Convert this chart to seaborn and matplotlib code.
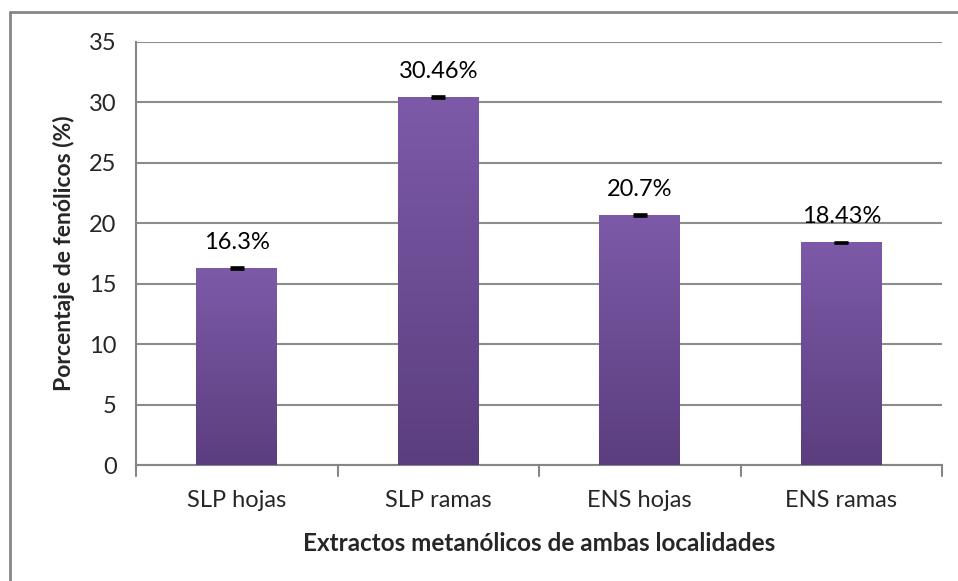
import numpy as np
import pandas as pd
import matplotlib
matplotlib.use("Agg")
import matplotlib.pyplot as plt
import seaborn as sns
from matplotlib.colors import LinearSegmentedColormap
from matplotlib.lines import Line2D

categories = ["SLP hojas", "SLP ramas", "ENS hojas", "ENS ramas"]
values = [16.3, 30.46, 20.7, 18.43]
errors = [0.06, 0.06, 0.06, 0.06]
labels = ["16.3%", "30.46%", "20.7%", "18.43%"]
yticks = [0, 5, 10, 15, 20, 25, 30, 35]

df = pd.DataFrame({"extracto": categories, "valor": values})

sns.set_theme(style="white")
plt.rcParams["font.family"] = ["Lato", "DejaVu Sans"]

fig = plt.figure(figsize=(9.58, 5.81), dpi=100)
ax = fig.add_axes([136 / 958, 1 - 465 / 581, (942 - 136) / 958, (465 - 42) / 581])

sns.barplot(data=df, x="extracto", y="valor", ax=ax, width=0.4,
            color="#7B58A6", errorbar=None, zorder=3)

# vertical gradient fill for each bar
cmap = LinearSegmentedColormap.from_list("morado", ["#5B3E7F", "#7D5AA8"])
grad = np.linspace(0, 1, 256).reshape(-1, 1)
for patch in ax.patches:
    x0, y0 = patch.get_x(), patch.get_y()
    w, h = patch.get_width(), patch.get_height()
    im = ax.imshow(grad, cmap=cmap, origin="lower", aspect="auto",
                   extent=[x0, x0 + w, y0, y0 + h], zorder=3.1)
    im.set_clip_path(patch)
    patch.set_facecolor("none")
    patch.set_edgecolor("none")

xs = np.arange(len(categories))
ax.errorbar(xs, values, yerr=errors, fmt="none", ecolor="black",
            elinewidth=1.2, capsize=4.8, capthick=1.9, zorder=4)

for x, v, t in zip(xs, values, labels):
    ax.text(x, v + 1.25, t, ha="center", va="bottom", fontsize=17, color="black")

ax.set_xlim(-0.5, 3.5)
ax.set_ylim(0, 35)
ax.set_yticks(yticks)
ax.set_yticklabels([str(t) for t in yticks], fontsize=17)
ax.tick_params(axis="x", labelsize=17, length=0, pad=18)
ax.tick_params(axis="y", length=7, width=1.5, color="#868686", direction="out", pad=7)

ax.yaxis.grid(True, color="#8C8C8C", linewidth=1.5, zorder=0)
ax.set_axisbelow(True)
for s in ["top", "right"]:
    ax.spines[s].set_visible(False)
for s in ["left", "bottom"]:
    ax.spines[s].set_color("#868686")
    ax.spines[s].set_linewidth(1.5)

# category boundary ticks on x axis
for b in [-0.5, 0.5, 1.5, 2.5, 3.5]:
    ax.plot([b, b], [0, -0.025], transform=ax.get_xaxis_transform(),
            color="#868686", linewidth=1.5, clip_on=False)

ax.set_xlabel("Extractos metanólicos de ambas localidades", fontsize=17.5,
              fontweight="bold", labelpad=15)
ax.set_ylabel("Porcentaje de fenólicos (%)", fontsize=16.5, fontweight="bold",
              labelpad=10)

# chart frame
fig.add_artist(Line2D([10 / 958, 10 / 958], [0, 1 - 12 / 581],
                      transform=fig.transFigure, color="#868686", linewidth=2))
fig.add_artist(Line2D([10 / 958, 1], [1 - 12 / 581, 1 - 12 / 581],
                      transform=fig.transFigure, color="#868686", linewidth=2))

fig.savefig("out.png", dpi=100)
